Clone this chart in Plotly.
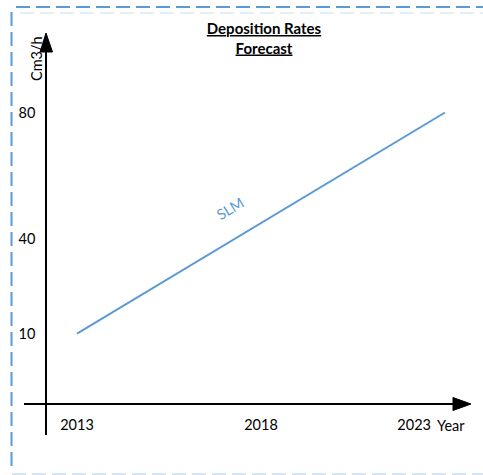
import plotly.graph_objects as go

# ---- data ----
years = [2013, 2023]
rates = [10, 80]
x_tickvals = [2013, 2018, 2023]
x_ticktext = ["2013", "2018", "2023" + "\u2003" * 5 + "\u2002"]
y_tickvals = [10, 40, 80]
y_ticktext = ["10", "40", "80"]
series_name = "SLM"

W, H = 483, 475
BLUE = "#5B9BD5"
FONT = "Lato"
FS = 14.5

fig = go.Figure()
fig.add_trace(go.Scatter(x=years, y=rates, mode="lines", name=series_name,
                         line=dict(color=BLUE, width=2), showlegend=False,
                         hoverinfo="skip"))

def px(xp):
    return xp / W

def py(yp):
    return (H - yp) / H

x_dom = [px(24), px(455)]
y_dom = [py(435), py(50)]

fig.update_layout(
    width=W, height=H, autosize=False,
    margin=dict(l=0, r=0, t=0, b=0, autoexpand=False),
    paper_bgcolor="white", plot_bgcolor="rgba(0,0,0,0)",
    font=dict(family=FONT, size=FS, color="black"),
    title=dict(
        text="<b><span style='text-decoration:underline'>Deposition Rates</span></b><br>"
             "<b><span style='text-decoration:underline'>Forecast</span></b>",
        x=px(264), xanchor="center", y=py(34), yanchor="middle",
        font=dict(family=FONT, size=15, color="black")),
    xaxis=dict(domain=x_dom, range=[2011.560, 2023.272], anchor="free",
               position=py(404), showline=True, linecolor="black", linewidth=1.5,
               showgrid=False, zeroline=False, ticks="", automargin=False,
               tickvals=x_tickvals, ticktext=x_ticktext, ticklabeloverflow="allow",
               ticklabelstandoff=8, tickfont=dict(family=FONT, size=FS)),
    yaxis=dict(domain=y_dom, range=[-22.09, 99.78], anchor="free",
               position=px(46), showline=True, linecolor="black", linewidth=1.5,
               showgrid=False, zeroline=False, ticks="", automargin=False,
               tickvals=y_tickvals, ticktext=y_ticktext, ticklabeloverflow="allow",
               ticklabelstandoff=7, tickfont=dict(family=FONT, size=FS)),
)

shapes = [
    dict(type="line", xref="paper", yref="paper", x0=px(46), x1=px(46),
         y0=py(50), y1=py(40), line=dict(color="black", width=1.5)),
    dict(type="path", xref="paper", yref="paper",
         path=f"M {px(40)} {py(52)} L {px(46)} {py(33)} L {px(52.5)} {py(52)} Z",
         fillcolor="black", line=dict(color="black", width=1)),
    dict(type="path", xref="paper", yref="paper",
         path=f"M {px(453)} {py(397.5)} L {px(471)} {py(404)} L {px(453)} {py(410.5)} Z",
         fillcolor="black", line=dict(color="black", width=1)),
    dict(type="line", xref="paper", yref="paper", x0=px(11.5), x1=px(11.5),
         y0=py(466), y1=py(12), line=dict(color=BLUE, width=2, dash="14px,6px")),
    dict(type="line", xref="paper", yref="paper", x0=px(16), x1=px(483),
         y0=py(7), y1=py(7), line=dict(color=BLUE, width=2, dash="14px,6px")),
    dict(type="line", xref="paper", yref="paper", x0=px(20), x1=px(483),
         y0=py(13), y1=py(13), line=dict(color="#E6EEF8", width=2, dash="14px,6px")),
    dict(type="line", xref="paper", yref="paper", x0=px(12), x1=px(483),
         y0=py(474), y1=py(474), line=dict(color="#D6E5F5", width=2, dash="14px,6px")),
]
fig.update_layout(shapes=shapes)

fig.add_annotation(text="Cm3/h", xref="paper", yref="paper", x=px(37), y=py(59),
                   xanchor="center", yanchor="middle",
                   textangle=-90, showarrow=False, font=dict(family=FONT, size=FS))
fig.add_annotation(text="Year", xref="paper", yref="paper", x=px(451), y=py(425),
                   xanchor="center", yanchor="middle",
                   showarrow=False, font=dict(family=FONT, size=FS))
fig.add_annotation(text=series_name, xref="x", yref="y", x=2017.16, y=49.5,
                   xanchor="center", yanchor="middle",
                   textangle=-31, showarrow=False, font=dict(family=FONT, size=14.5, color=BLUE))

fig.write_html("out.html")
